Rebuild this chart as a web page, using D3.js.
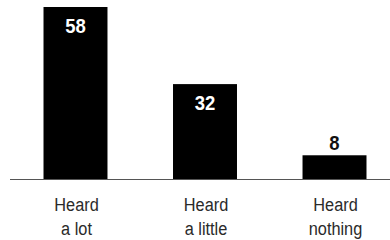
<!DOCTYPE html>
<html><head><meta charset="utf-8">
<script src="https://cdn.jsdelivr.net/npm/d3@7"></script>
<style>html,body{margin:0;padding:0;background:#fff;}svg{display:block;}</style>
</head><body>
<svg id="c" width="390" height="240"></svg>
<script>
const categories = [["Heard","a lot"],["Heard","a little"],["Heard","nothing"]];
const values = [58, 32, 8];

const svg = d3.select("#c");
const font = "'Liberation Sans',Arial,sans-serif";
const x = d3.scaleBand().domain(d3.range(values.length)).range([11, 399]).paddingInner(0.506).paddingOuter(0.251);
const y = d3.scaleLinear().domain([0, 58]).range([179, 7]);

svg.selectAll("rect.bar").data(values).join("rect")
  .attr("class","bar")
  .attr("x",(d,i)=>x(i)).attr("width",x.bandwidth())
  .attr("y",d=>y(d)).attr("height",d=>y(0)-y(d))
  .attr("fill","#000");

svg.append("line").attr("x1",10).attr("x2",390).attr("y1",y(0)+0.5).attr("y2",y(0)+0.5)
  .attr("stroke","#555").attr("stroke-width",1);

svg.selectAll("text.val").data(values).join("text")
  .attr("class","val")
  .attr("transform",(d,i)=>{
    const inside = (y(0)-y(d)) > 40;
    return `translate(${x(i)+x.bandwidth()/2},${inside ? y(d)+26 : y(d)-5}) scale(0.95,1.02)`;
  })
  .attr("text-anchor","middle")
  .attr("font-family",font).attr("font-weight","bold").attr("font-size",19.5)
  .attr("fill",d=> (y(0)-y(d)) > 40 ? "#fff" : "#111")
  .text(d=>d);

const lab = svg.selectAll("text.cat").data(categories).join("text")
  .attr("class","cat")
  .attr("transform",(d,i)=>`translate(${x(i)+x.bandwidth()/2+1},211) scale(0.86,1)`)
  .attr("text-anchor","middle")
  .attr("font-family",font).attr("font-size",19).attr("fill","#2a2a2a");
lab.selectAll("tspan").data(d=>d).join("tspan")
  .attr("x",0)
  .attr("dy",(d,i)=>i===0?0:24)
  .text(d=>d);
</script>
</body></html>
